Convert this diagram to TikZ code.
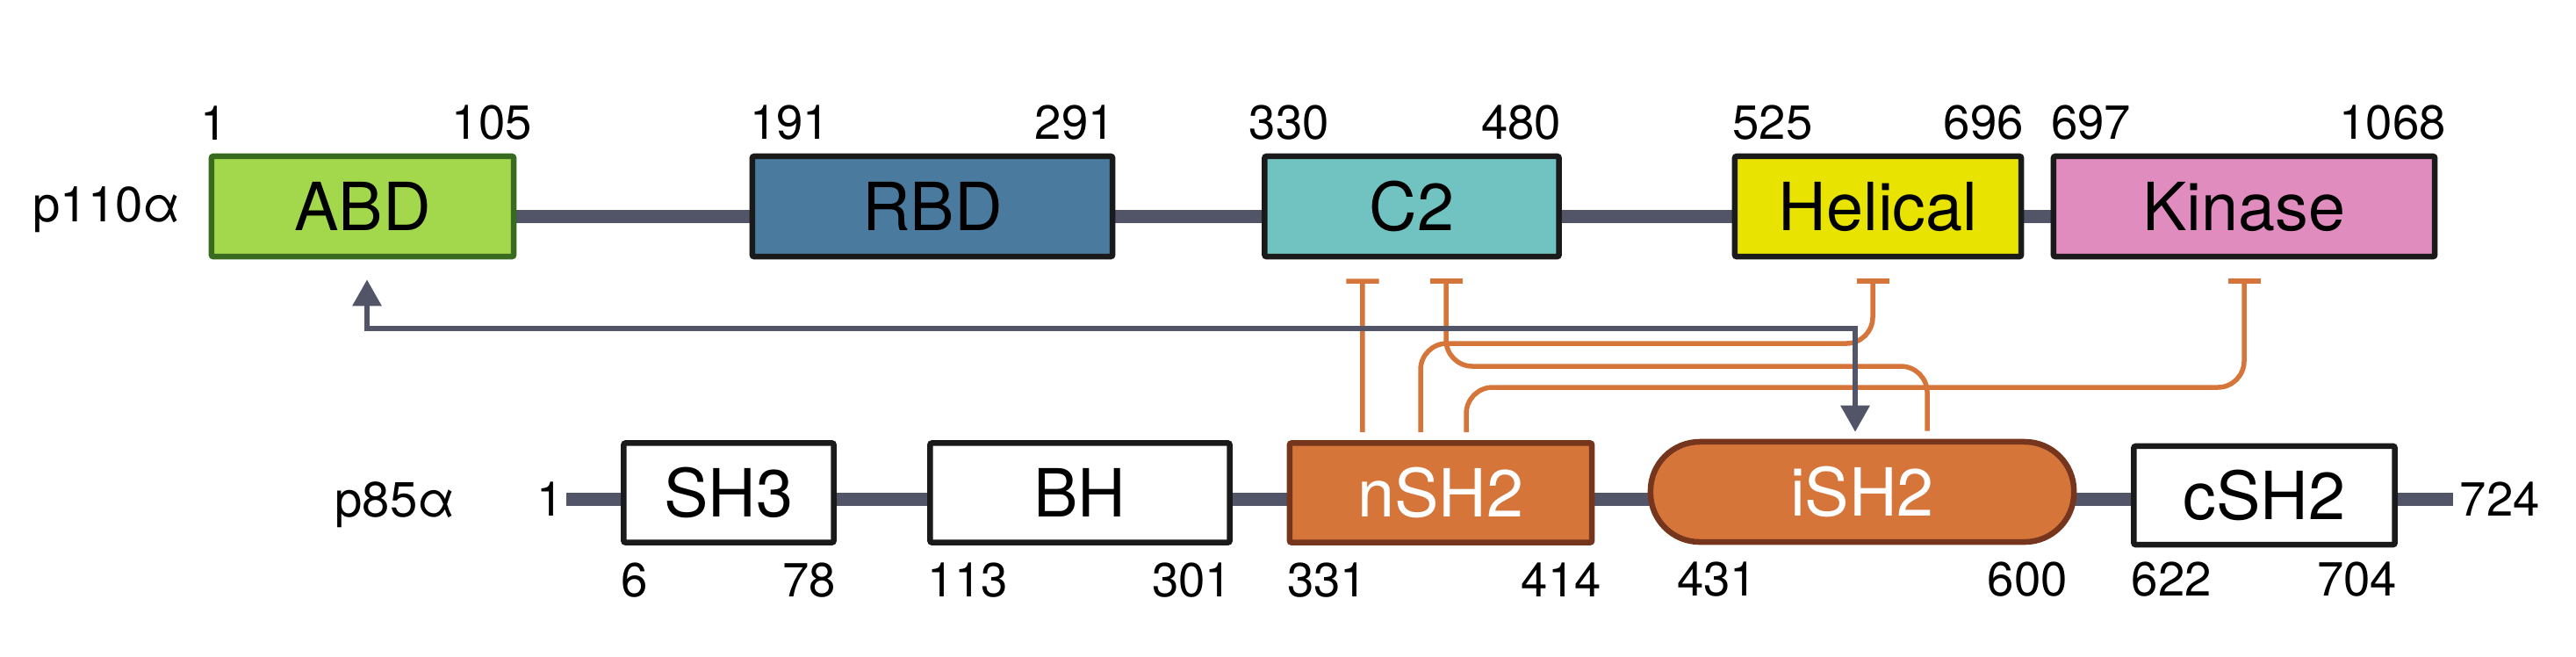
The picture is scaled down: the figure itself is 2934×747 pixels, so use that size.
\documentclass[tikz,border=0pt]{standalone}
\usepackage{fontspec}
\setmainfont{TeX Gyre Heros}
\usetikzlibrary{arrows.meta,backgrounds}
\definecolor{chain}{HTML}{525468}
\definecolor{edgeblack}{HTML}{1A1A1A}
\definecolor{sh2fill}{HTML}{D5753A}
\definecolor{sh2edge}{HTML}{76361E}
\definecolor{abdfill}{HTML}{A4D84C}
\definecolor{abdedge}{HTML}{386B1F}
\definecolor{rbdfill}{HTML}{4A7B9F}
\definecolor{c2fill}{HTML}{71C3C2}
\definecolor{helfill}{HTML}{E8E300}
\definecolor{kinfill}{HTML}{E08CBF}
\begin{document}
\begin{tikzpicture}[x=0.01cm,y=-0.01cm,
    dom/.style={draw=edgeblack,line width=0.065cm,rounded corners=0.02cm,
      minimum height=1.14cm,inner sep=0pt,font=\fontsize{21.5}{25}\selectfont},
    sh2/.style={dom,draw=sh2edge,fill=sh2fill,text=white},
    num/.style={inner sep=0pt,font=\fontsize{15.5}{18}\selectfont},
    chainlab/.style={inner sep=0pt,font=\fontsize{16}{19}\selectfont},
    chainline/.style={draw=chain,line width=0.15cm},
    inh/.style={draw=sh2fill,line width=0.055cm,rounded corners=0.3cm,
      shorten <=0.09cm,shorten >=0.22cm,-{Bar[width=0.37cm]}},
    bind/.style={draw=chain,line width=0.06cm,shorten <=0.08cm,shorten >=0.23cm,
      {Triangle[length=0.3cm,width=0.32cm]}-{Triangle[length=0.3cm,width=0.32cm]}}]
  \useasboundingbox (0,0) rectangle (2934,747);

  % p110 alpha
  \node[chainlab,anchor=base west] (p110) at (37,252) {p110α};
  \node[dom,draw=abdedge,fill=abdfill,minimum width=3.44cm] (ABD) at (413,235) {ABD};
  \node[dom,fill=rbdfill,minimum width=4.10cm] (RBD) at (1062,235) {RBD};
  \node[dom,fill=c2fill,minimum width=3.35cm] (C2) at (1608,235) {C2};
  \node[dom,fill=helfill,minimum width=3.26cm] (Hel) at (2139,235) {Helical};
  \node[dom,fill=kinfill,minimum width=4.34cm] (Kin) at (2556,235) {Kinase};

  \node[num,anchor=south west,yshift=0.15cm,xshift=-0.1cm] (t1) at (ABD.north west) {1};
  \node[num,anchor=south east,yshift=0.15cm,xshift=0.18cm] (t105) at (ABD.north east) {105};
  \node[num,anchor=south west,yshift=0.15cm] (t191) at (RBD.north west) {191};
  \node[num,anchor=south east,yshift=0.15cm] (t291) at (RBD.north east) {291};
  \node[num,anchor=south west,yshift=0.15cm,xshift=-0.15cm] (t330) at (C2.north west) {330};
  \node[num,anchor=south east,yshift=0.15cm] (t480) at (C2.north east) {480};
  \node[num,anchor=south west,yshift=0.15cm] (t525) at (Hel.north west) {525};
  \node[num,anchor=south east,yshift=0.15cm] (t696) at (Hel.north east) {696};
  \node[num,anchor=south west,yshift=0.15cm] (t697) at (Kin.north west) {697};
  \node[num,anchor=south east,yshift=0.15cm,xshift=0.1cm] (t1068) at (Kin.north east) {1068};

  % p85 alpha
  \node[chainlab,anchor=base west] (p85) at (381,588) {p85α};
  \node[num,anchor=base east,inner xsep=0.03cm] (b1) at (645,587) {1};
  \node[num,anchor=base west,inner xsep=0.07cm] (b724) at (2794,587) {724};
  \node[dom,fill=white,minimum width=2.39cm,minimum height=1.13cm] (SH3) at (830,561) {SH3};
  \node[dom,fill=white,minimum width=3.41cm,minimum height=1.13cm] (BH) at (1230,561) {BH};
  \node[sh2,minimum width=3.44cm,minimum height=1.13cm] (nSH2) at (1641,561) {nSH2};
  \node[sh2,rounded corners=0.56cm,minimum width=4.82cm,minimum height=1.14cm] (iSH2) at (2121,560) {iSH2};
  \node[dom,fill=white,minimum width=2.97cm,minimum height=1.12cm] (cSH2) at (2579,564) {cSH2};

  \node[num,anchor=north west,yshift=-0.19cm] (b6) at (SH3.south west) {6};
  \node[num,anchor=north east,yshift=-0.19cm] (b78) at (SH3.south east) {78};
  \node[num,anchor=north west,yshift=-0.19cm] (b113) at (BH.south west) {113};
  \node[num,anchor=north east,yshift=-0.19cm] (b301) at (BH.south east) {301};
  \node[num,anchor=north west,yshift=-0.19cm] (b331) at (nSH2.south west) {331};
  \node[num,anchor=north east,yshift=-0.19cm,xshift=0.08cm] (b414) at (nSH2.south east) {414};
  \node[num,anchor=north west,yshift=-0.19cm,xshift=0.33cm] (b431) at (iSH2.south west) {431};
  \node[num,anchor=north east,yshift=-0.19cm,xshift=-0.1cm] (b600) at (iSH2.south east) {600};
  \node[num,anchor=north west,yshift=-0.16cm] (b622) at (cSH2.south west) {622};
  \node[num,anchor=north east,yshift=-0.16cm] (b704) at (cSH2.south east) {704};

  \begin{scope}[on background layer]
    \draw[chainline] (ABD.east |- 0,246) -- (Kin.west |- 0,246);
    \draw[chainline] (b1.east |- 0,568) -- (b724.west |- 0,568);
  \end{scope}

  % contact points
  \coordinate (abdA) at ([xshift=0.05cm]ABD.south);
  \coordinate (c2A) at ([xshift=-0.56cm]C2.south);
  \coordinate (c2B) at ([xshift=0.39cm]C2.south);
  \coordinate (helA) at ([xshift=-0.06cm]Hel.south);
  \coordinate (kinA) at (Kin.south);
  \coordinate (nA) at ([xshift=-0.89cm]nSH2.north);
  \coordinate (nB) at ([xshift=-0.23cm]nSH2.north);
  \coordinate (nC) at ([xshift=0.29cm]nSH2.north);
  \coordinate (iA) at ([xshift=-0.08cm]iSH2.north);
  \coordinate (iB) at ([xshift=0.74cm]iSH2.north);

  \draw[inh] (nA) -- (c2A);
  \draw[inh] (iB) |- (c2B |- 0,417) -- (c2B);
  \draw[inh] (nB) |- (helA |- 0,391) -- (helA);
  \draw[inh] (nC) |- (kinA |- 0,441) -- (kinA);
  \draw[bind] (iA) |- (abdA |- 0,374) -- (abdA);
\end{tikzpicture}
\end{document}
